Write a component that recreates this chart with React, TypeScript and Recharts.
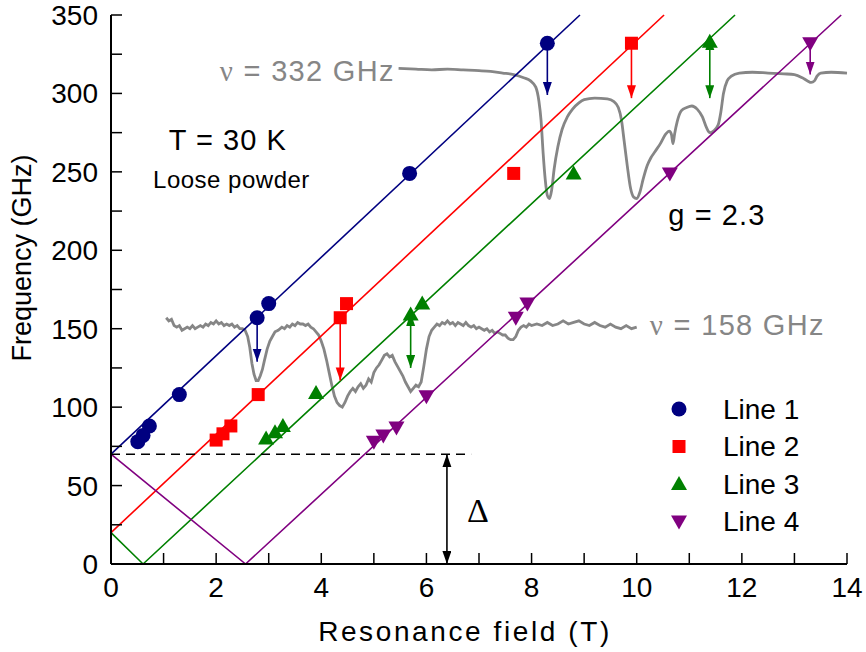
import React from "react";
import {
  ComposedChart,
  Line,
  ReferenceDot,
  ReferenceLine,
  Scatter,
  XAxis,
  YAxis,
} from "recharts";

const FONT = "'Liberation Sans', Arial, sans-serif";
const SERIF = "'Liberation Serif', 'Times New Roman', serif";

const COLORS = { l1: "#000080", l2: "#ff0000", l3: "#008000", l4: "#800080" };
const GRAY = "#868686";

// resonance positions (field T, frequency GHz)
const line1B = [0.51, 0.61, 0.73, 1.3, 2.78, 3.0, 5.68, 8.3];
const line1F = [78, 82, 88, 108, 157, 166, 249, 332];
const line2B = [2.0, 2.13, 2.28, 2.8, 4.36, 4.48, 7.66, 9.9];
const line2F = [79, 83, 88, 108, 157, 166, 249, 332];
const line3B = [2.95, 3.12, 3.27, 3.9, 5.7, 5.92, 8.8, 11.39];
const line3F = [80, 84, 88, 109, 159, 166, 249, 333];
const line4B = [5.0, 5.18, 5.43, 6.0, 7.7, 7.92, 10.63, 13.3];
const line4F = [78, 82, 87, 107, 157, 166, 249, 332];

// linear fits (g = 2.3), corner points
const fit1: [number, number][] = [[0, 70], [8.92, 350]];
const fit2: [number, number][] = [[0, 20], [10.52, 350]];
const fit3: [number, number][] = [[0, 20], [0.61, 0], [11.87, 350]];
const fit4: [number, number][] = [[0, 70], [2.56, 0], [13.89, 350]];

// arrows: field, start, end
const arrows1 = [[2.78, 157, 129], [8.3, 332, 299]];
const arrows2 = [[4.36, 157, 117], [9.9, 332, 297]];
const arrows3 = [[5.7, 160, 125], [11.39, 336, 297]];
const arrows4 = [[13.3, 332, 312]];
const gapArrow = [6.39, 70, 0];
const gapLevel = 70;
const gapEnd = 6.85;

// ESR spectra
const spectrum158: [number, number][] = [
  [1.05, 157], [1.1, 155], [1.15, 156], [1.2, 152], [1.25, 151], [1.3, 152],
  [1.35, 149], [1.4, 150], [1.45, 151], [1.5, 150], [1.55, 152], [1.6, 150],
  [1.65, 151], [1.7, 152], [1.75, 151], [1.8, 153], [1.85, 152], [1.9, 154],
  [1.95, 153], [2.0, 155], [2.05, 153], [2.1, 154], [2.15, 152], [2.2, 153],
  [2.25, 152], [2.3, 153], [2.35, 151], [2.4, 152], [2.45, 150], [2.5, 150],
  [2.55, 149], [2.6, 145], [2.64, 138], [2.68, 128], [2.72, 121], [2.76, 117],
  [2.8, 117], [2.84, 120], [2.88, 124], [2.92, 130], [2.97, 137], [3.02, 142],
  [3.07, 145], [3.12, 148], [3.18, 149], [3.25, 151], [3.3, 150], [3.35, 152],
  [3.4, 151], [3.45, 153], [3.5, 152], [3.55, 154], [3.6, 153], [3.65, 153],
  [3.7, 152], [3.75, 153], [3.8, 151], [3.85, 150], [3.9, 148], [3.95, 146],
  [4.0, 142], [4.05, 137], [4.1, 130], [4.15, 122], [4.2, 114], [4.25, 107],
  [4.3, 103], [4.35, 101], [4.4, 100], [4.45, 103], [4.5, 107], [4.55, 110],
  [4.6, 112], [4.65, 110], [4.7, 113], [4.75, 115], [4.8, 112], [4.85, 114],
  [4.9, 118], [4.95, 116], [5.0, 122], [5.05, 125], [5.1, 127], [5.15, 130],
  [5.2, 133], [5.25, 134], [5.3, 132], [5.35, 133], [5.4, 129], [5.45, 126],
  [5.5, 123], [5.55, 120], [5.6, 116], [5.65, 113], [5.7, 110], [5.75, 112],
  [5.8, 114], [5.85, 113], [5.9, 116], [5.95, 126], [6.0, 137], [6.05, 145],
  [6.1, 149], [6.15, 151], [6.2, 153], [6.25, 152], [6.3, 154], [6.35, 153],
  [6.4, 155], [6.45, 153], [6.5, 154], [6.55, 152], [6.6, 154], [6.65, 153],
  [6.7, 152], [6.75, 154], [6.8, 152], [6.85, 151], [6.9, 152], [6.95, 150],
  [7.0, 151], [7.05, 150], [7.1, 149], [7.15, 150], [7.2, 148], [7.25, 149],
  [7.3, 147], [7.35, 148], [7.4, 147], [7.45, 146], [7.5, 146], [7.55, 144],
  [7.6, 143], [7.65, 143], [7.7, 145], [7.75, 149], [7.8, 151], [7.85, 152],
  [7.9, 151], [7.95, 153], [8.0, 152], [8.1, 153], [8.2, 152], [8.3, 154],
  [8.4, 152], [8.5, 153], [8.6, 155], [8.7, 153], [8.8, 154], [8.9, 155],
  [9.0, 153], [9.1, 152], [9.2, 154], [9.3, 152], [9.4, 151], [9.5, 153],
  [9.6, 151], [9.7, 150], [9.8, 152], [9.9, 150], [10.0, 151],
];

const spectrum332: [number, number][] = [
  [5.47, 316], [5.8, 315.5], [6.1, 315], [6.4, 315.5], [6.7, 315], [7.0, 314.5],
  [7.22, 314], [7.45, 313], [7.66, 312], [7.85, 310], [7.98, 308], [8.08, 304],
  [8.14, 295], [8.18, 283], [8.22, 262], [8.26, 245], [8.3, 235], [8.34, 233],
  [8.38, 238], [8.43, 252], [8.5, 266], [8.58, 277], [8.68, 285], [8.78, 290],
  [8.9, 294], [9.0, 296], [9.2, 297], [9.44, 296.5], [9.56, 295], [9.65, 291],
  [9.71, 283], [9.76, 270], [9.82, 254], [9.88, 240], [9.94, 234], [10.0, 233],
  [10.06, 237], [10.12, 245], [10.2, 254], [10.27, 259], [10.35, 263],
  [10.45, 268], [10.55, 274], [10.62, 276], [10.66, 274], [10.69, 268],
  [10.72, 274], [10.77, 282], [10.85, 289], [10.95, 291], [11.05, 292],
  [11.15, 290], [11.25, 285], [11.33, 278], [11.39, 275], [11.46, 276],
  [11.55, 280], [11.6, 288], [11.65, 300], [11.72, 308], [11.8, 311],
  [11.95, 313], [12.2, 313.5], [12.5, 313], [12.8, 312.5], [13.0, 312],
  [13.15, 310], [13.25, 308], [13.32, 307], [13.38, 308], [13.43, 311],
  [13.5, 313], [13.7, 313.5], [14.0, 313],
];

const xTicks = [0, 1, 2, 3, 4, 5, 6, 7, 8, 9, 10, 11, 12, 13, 14];
const yTicks = [0, 25, 50, 75, 100, 125, 150, 175, 200, 225, 250, 275, 300, 325, 350];

const zip = (bs: number[], fs: number[]) => bs.map((b, i) => ({ b, f: fs[i] }));
const pairs = (p: [number, number][]) => p.map(([b, f]) => ({ b, f }));

const Circle = ({ cx, cy, fill }: any) => <circle cx={cx} cy={cy} r={7.5} fill={fill} />;
const Square = ({ cx, cy, fill }: any) => (
  <rect x={cx - 6.5} y={cy - 6.5} width={13} height={13} fill={fill} />
);
const TriUp = ({ cx, cy, fill }: any) => (
  <path d={`M${cx - 8},${cy + 6} L${cx + 8},${cy + 6} L${cx},${cy - 8} Z`} fill={fill} />
);
const TriDown = ({ cx, cy, fill }: any) => (
  <path d={`M${cx - 8},${cy - 6} L${cx + 8},${cy - 6} L${cx},${cy + 8} Z`} fill={fill} />
);

const legendItems = [
  { name: "Line 1", color: COLORS.l1, Shape: Circle },
  { name: "Line 2", color: COLORS.l2, Shape: Square },
  { name: "Line 3", color: COLORS.l3, Shape: TriUp },
  { name: "Line 4", color: COLORS.l4, Shape: TriDown },
];

const note =
  (content: React.ReactNode, size: number, fill = "#000", spacing = 0, family = FONT) =>
  ({ viewBox }: any) => (
    <text
      x={viewBox.x}
      y={viewBox.y}
      fontSize={size}
      fontFamily={family}
      fill={fill}
      letterSpacing={spacing}
      dominantBaseline="central"
    >
      {content}
    </text>
  );

const arrowLines = (list: number[][], color: string, both = false) =>
  list.map(([b, from, to], i) => (
    <ReferenceLine
      key={color + i}
      segment={[{ x: b, y: from }, { x: b, y: to }]}
      stroke={color}
      strokeWidth={1.6}
      markerEnd={`url(#ah-${color.slice(1)})`}
      markerStart={both ? `url(#ah-${color.slice(1)})` : undefined}
    />
  ));

export default function App() {
  const markerColors = [COLORS.l1, COLORS.l2, COLORS.l3, COLORS.l4, "#000000"];
  return (
    <div style={{ position: "absolute", left: 0, top: 0, width: 866, height: 652, background: "#fff" }}>
      <ComposedChart width={866} height={652} margin={{ top: 15, right: 19, bottom: 0, left: 0 }}>
        <defs>
          {markerColors.map((c) => (
            <marker
              key={c}
              id={`ah-${c.slice(1)}`}
              markerUnits="userSpaceOnUse"
              markerWidth={14}
              markerHeight={10}
              refX={13}
              refY={4.5}
              orient="auto-start-reverse"
            >
              <path d="M0,0 L13,4.5 L0,9 Z" fill={c} />
            </marker>
          ))}
        </defs>
        <XAxis
          dataKey="b"
          type="number"
          domain={[0, 14]}
          ticks={xTicks}
          interval={0}
          height={88}
          tickSize={-11}
          tickMargin={24}
          tickFormatter={(v: number) => (v % 2 === 0 ? String(v) : "")}
          tick={{ fill: "#000", fontSize: 28, fontFamily: FONT }}
          axisLine={{ stroke: "#000", strokeWidth: 2 }}
          tickLine={{ stroke: "#000", strokeWidth: 1.5 }}
          label={{
            content: () => (
              <text x={465} y={631} textAnchor="middle" dominantBaseline="central" fontSize={28} letterSpacing={2.6} fontFamily={FONT} fill="#000">
                Resonance field (T)
              </text>
            ),
          }}
        />
        <XAxis
          xAxisId="top"
          orientation="top"
          type="number"
          domain={[0, 14]}
          ticks={xTicks}
          interval={0}
          height={0}
          tickSize={-11}
          tickFormatter={() => ""}
          axisLine={{ stroke: "#000", strokeWidth: 2 }}
          tickLine={{ stroke: "#000", strokeWidth: 1.5 }}
        />
        <YAxis
          dataKey="f"
          type="number"
          domain={[0, 350]}
          ticks={yTicks}
          interval={0}
          width={111}
          tickSize={-11}
          tickMargin={24}
          tickFormatter={(v: number) => (v % 50 === 0 ? String(v) : "")}
          tick={{ fill: "#000", fontSize: 28, fontFamily: FONT }}
          axisLine={{ stroke: "#000", strokeWidth: 2 }}
          tickLine={{ stroke: "#000", strokeWidth: 1.5 }}
          label={{
            content: () => (
              <text x={22} y={258} transform="rotate(-90 22 258)" textAnchor="middle" dominantBaseline="central" fontSize={27} fontFamily={FONT} fill="#000">
                Frequency (GHz)
              </text>
            ),
          }}
        />
        <YAxis
          yAxisId="right"
          orientation="right"
          type="number"
          domain={[0, 350]}
          ticks={yTicks}
          interval={0}
          width={0}
          tickSize={-11}
          tickFormatter={() => ""}
          axisLine={{ stroke: "#000", strokeWidth: 2 }}
          tickLine={{ stroke: "#000", strokeWidth: 1.5 }}
        />

        <Line data={pairs(spectrum158)} dataKey="f" stroke={GRAY} strokeWidth={2.8} dot={false} type="linear" isAnimationActive={false} />
        <Line data={pairs(spectrum332)} dataKey="f" stroke={GRAY} strokeWidth={2.8} dot={false} type="monotone" isAnimationActive={false} />

        <Line data={pairs(fit1)} dataKey="f" stroke={COLORS.l1} strokeWidth={1.6} dot={false} isAnimationActive={false} />
        <Line data={pairs(fit2)} dataKey="f" stroke={COLORS.l2} strokeWidth={1.6} dot={false} isAnimationActive={false} />
        <Line data={pairs(fit3)} dataKey="f" stroke={COLORS.l3} strokeWidth={1.6} dot={false} isAnimationActive={false} />
        <Line data={pairs(fit4)} dataKey="f" stroke={COLORS.l4} strokeWidth={1.6} dot={false} isAnimationActive={false} />

        <ReferenceLine
          segment={[{ x: 0, y: gapLevel }, { x: gapEnd, y: gapLevel }]}
          stroke="#000"
          strokeWidth={1.6}
          strokeDasharray="9 6"
        />
        <ReferenceLine
          segment={[{ x: gapArrow[0], y: gapArrow[1] }, { x: gapArrow[0], y: gapArrow[2] }]}
          stroke="#000"
          strokeWidth={1.6}
          markerStart="url(#ah-000000)"
          markerEnd="url(#ah-000000)"
        />
        {arrowLines(arrows1, COLORS.l1)}
        {arrowLines(arrows2, COLORS.l2)}
        {arrowLines(arrows3, COLORS.l3, true)}
        {arrowLines(arrows4, COLORS.l4)}

        <Scatter data={zip(line1B, line1F)} fill={COLORS.l1} shape={Circle} isAnimationActive={false} />
        <Scatter data={zip(line2B, line2F)} fill={COLORS.l2} shape={Square} isAnimationActive={false} />
        <Scatter data={zip(line3B, line3F)} fill={COLORS.l3} shape={TriUp} isAnimationActive={false} />
        <Scatter data={zip(line4B, line4F)} fill={COLORS.l4} shape={TriDown} isAnimationActive={false} />

        <ReferenceDot x={2.07} y={314} r={0} stroke="none" fill="none"
          label={{ content: note(<><tspan fontFamily={SERIF}>ν</tspan> = 332 GHz</>, 29, GRAY, 1.3) }} />
        <ReferenceDot x={10.25} y={152.4} r={0} stroke="none" fill="none"
          label={{ content: note(<><tspan fontFamily={SERIF}>ν</tspan> = 158 GHz</>, 29, GRAY, 1.3) }} />
        <ReferenceDot x={1.1} y={270.5} r={0} stroke="none" fill="none"
          label={{ content: note("T = 30 K", 29, "#000", 1) }} />
        <ReferenceDot x={0.8} y={245.4} r={0} stroke="none" fill="none"
          label={{ content: note("Loose powder", 24, "#000", 0.5) }} />
        <ReferenceDot x={10.6} y={222.5} r={0} stroke="none" fill="none"
          label={{ content: note("g = 2.3", 29, "#000", 1.1) }} />
        <ReferenceDot x={6.77} y={34.4} r={0} stroke="none" fill="none"
          label={{ content: note("Δ", 34, "#000", 0, SERIF) }} />
      </ComposedChart>

      <svg width={180} height={150} style={{ position: "absolute", left: 660, top: 390 }}>
        {legendItems.map(({ name, color, Shape }, i) => (
          <g key={name}>
            <Shape cx={19} cy={19 + i * 37.5} fill={color} />
            <text x={63} y={19 + i * 37.5} dominantBaseline="central" fontSize={28} fontFamily={FONT} fill="#000">
              {name}
            </text>
          </g>
        ))}
      </svg>
    </div>
  );
}
